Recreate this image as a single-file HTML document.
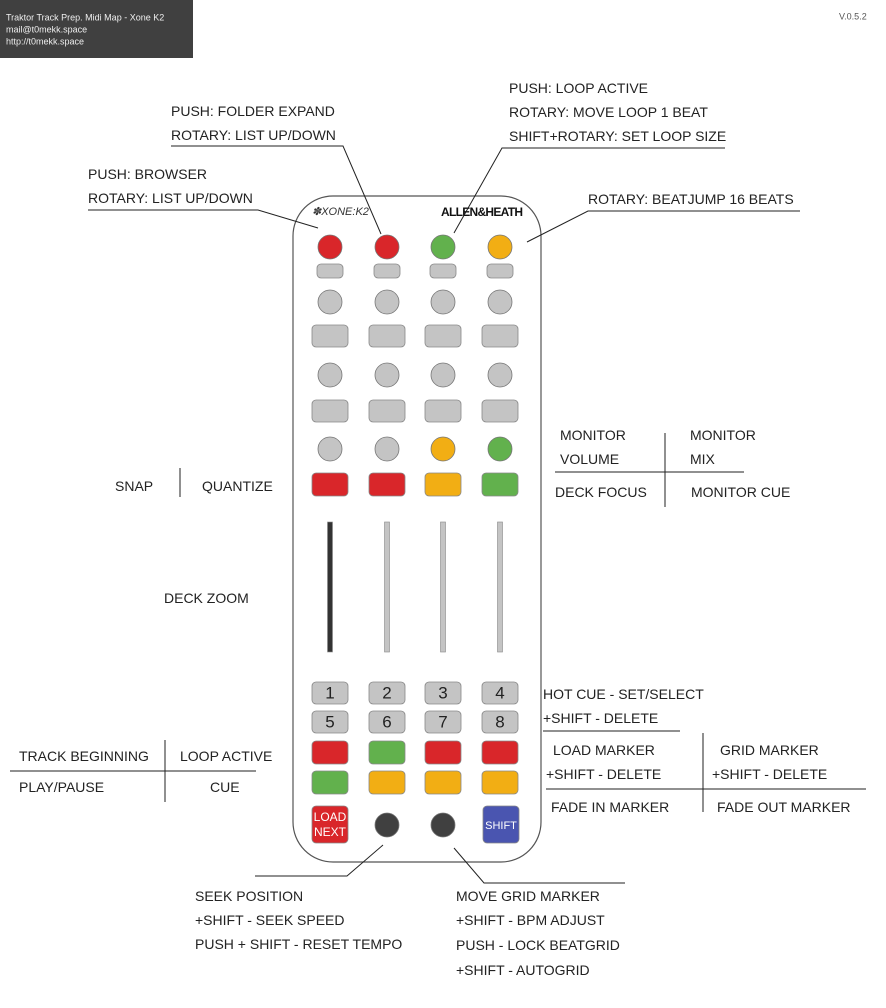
<!DOCTYPE html>
<html><head><meta charset="utf-8"><style>
html,body{margin:0;padding:0;background:#fff}
svg{display:block}
text{font-family:"Liberation Sans",sans-serif;fill:#222;font-size:14px;dominant-baseline:middle}
</style></head><body>
<svg width="886" height="1008" viewBox="0 0 886 1008">
<g>
<rect x="0" y="0" width="193" height="58" fill="#404040"/>
<text x="6" y="18" style="fill:#eee;font-size:9px">Traktor Track Prep. Midi Map - Xone K2</text>
<text x="6" y="30" style="fill:#eee;font-size:9px">mail@t0mekk.space</text>
<text x="6" y="42" style="fill:#eee;font-size:9px">http://t0mekk.space</text>
</g>
<text x="839" y="17" style="font-size:9px;fill:#555">V.0.5.2</text>

<g>
<rect x="293" y="196" width="248" height="666" rx="40" fill="#fff" stroke="#555" stroke-width="1.2"/>
<text x="312" y="212" style="font-size:11px;font-style:italic;fill:#333">✽XONE:K2</text>
<text x="441" y="213" textLength="82" style="font-size:12px;font-weight:bold;fill:#111">ALLEN&amp;HEATH</text>
</g>
<g id="ctrls"></g>

<g stroke="#222" stroke-width="1" fill="none">
<polyline points="171,146 343,146 381,234"/>
<polyline points="88,210 258,210 318,228"/>
<polyline points="454,233 502,148 725,148"/>
<polyline points="800,211 588,211 527,242"/>
<line x1="665" y1="433" x2="665" y2="507"/>
<line x1="555" y1="472" x2="744" y2="472"/>
<line x1="180" y1="468" x2="180" y2="497"/>
<line x1="543" y1="731" x2="680" y2="731"/>
<line x1="703" y1="733" x2="703" y2="812"/>
<line x1="546" y1="789" x2="866" y2="789"/>
<line x1="165" y1="740" x2="165" y2="802"/>
<line x1="10" y1="771" x2="256" y2="771"/>
<polyline points="383,845 347,876 255,876"/>
<polyline points="454,848 484,883 625,883"/>
</g>

<g transform="translate(0,1.5)">
<text x="171" y="111">PUSH: FOLDER EXPAND</text>
<text x="171" y="135">ROTARY: LIST UP/DOWN</text>
<text x="88" y="174">PUSH: BROWSER</text>
<text x="88" y="198">ROTARY: LIST UP/DOWN</text>
<text x="509" y="88">PUSH: LOOP ACTIVE</text>
<text x="509" y="112">ROTARY: MOVE LOOP 1 BEAT</text>
<text x="509" y="136">SHIFT+ROTARY: SET LOOP SIZE</text>
<text x="588" y="199">ROTARY: BEATJUMP 16 BEATS</text>
<text x="560" y="435">MONITOR</text>
<text x="560" y="459">VOLUME</text>
<text x="690" y="435">MONITOR</text>
<text x="690" y="459">MIX</text>
<text x="555" y="492">DECK FOCUS</text>
<text x="691" y="492">MONITOR CUE</text>
<text x="115" y="486">SNAP</text>
<text x="202" y="486">QUANTIZE</text>
<text x="164" y="598">DECK ZOOM</text>
<text x="543" y="694">HOT CUE - SET/SELECT</text>
<text x="543" y="718">+SHIFT - DELETE</text>
<text x="553" y="750">LOAD MARKER</text>
<text x="546" y="774">+SHIFT - DELETE</text>
<text x="720" y="750">GRID MARKER</text>
<text x="712" y="774">+SHIFT - DELETE</text>
<text x="551" y="807">FADE IN  MARKER</text>
<text x="717" y="807">FADE OUT MARKER</text>
<text x="19" y="756">TRACK BEGINNING</text>
<text x="180" y="756">LOOP ACTIVE</text>
<text x="19" y="787">PLAY/PAUSE</text>
<text x="210" y="787">CUE</text>
<text x="195" y="896">SEEK POSITION</text>
<text x="195" y="920">+SHIFT - SEEK SPEED</text>
<text x="195" y="944">PUSH + SHIFT - RESET TEMPO</text>
<text x="456" y="896">MOVE GRID MARKER</text>
<text x="456" y="920">+SHIFT - BPM ADJUST</text>
<text x="456" y="945">PUSH - LOCK BEATGRID</text>
<text x="456" y="970">+SHIFT - AUTOGRID</text>
</g>
<script>
const NS="http://www.w3.org/2000/svg";
const g=document.getElementById('ctrls');
const C={r:'#d9262a',g:'#62b14d',o:'#f2ae14',s:'#c4c4c4',d:'#404040',b:'#4a55b0'};
const cols=[330,387,443,500];
function mk(t,a){const e=document.createElementNS(NS,t);for(const k in a)e.setAttribute(k,a[k]);g.appendChild(e);return e;}
function knob(x,y,c){const e=mk('circle',{cx:x,cy:y,r:12,fill:C[c],stroke:'#777','stroke-width':0.8});

}
function btn(x,y,w,h,c){const e=mk('rect',{x:x-w/2,y:y,width:w,height:h,rx:4,fill:C[c],stroke:'#888','stroke-width':0.8});

}
function lbl(x,y,t,s,f){const e=mk('text',{x:x,y:y,'text-anchor':'middle',style:'font-size:'+s+'px;fill:'+f});e.textContent=t;

}
const k1=['r','r','g','o'],k4=['s','s','o','g'],b4=['r','r','o','g'],r1=['r','g','r','r'],r2=['g','o','o','o'];
cols.forEach((x,i)=>{
 knob(x,247,k1[i]); btn(x,264,26,14,'s');
 knob(x,302,'s'); btn(x,325,36,22,'s');
 knob(x,375,'s'); btn(x,400,36,22,'s');
 knob(x,449,k4[i]); btn(x,473,36,23,b4[i]);
 const f=mk('rect',{x:x-2.5,y:522,width:5,height:130,fill:i==0?'#333':'#c4c4c4',stroke:'#888','stroke-width':0.6});
 
 
 btn(x,682,36,22,'s'); lbl(x,694,String(i+1),17,'#222');
 btn(x,711,36,22,'s'); lbl(x,723,String(i+5),17,'#222');
 btn(x,741,36,23,r1[i]); btn(x,771,36,23,r2[i]);
});
btn(330,806,36,37,'r'); lbl(330,818,'LOAD',12,'#fff'); lbl(330,833,'NEXT',12,'#fff');
knob(387,825,'d'); knob(443,825,'d');
btn(501,806,36,37,'b'); lbl(501,826,'SHIFT',11,'#fff');
</script>
</svg>
</body></html>
